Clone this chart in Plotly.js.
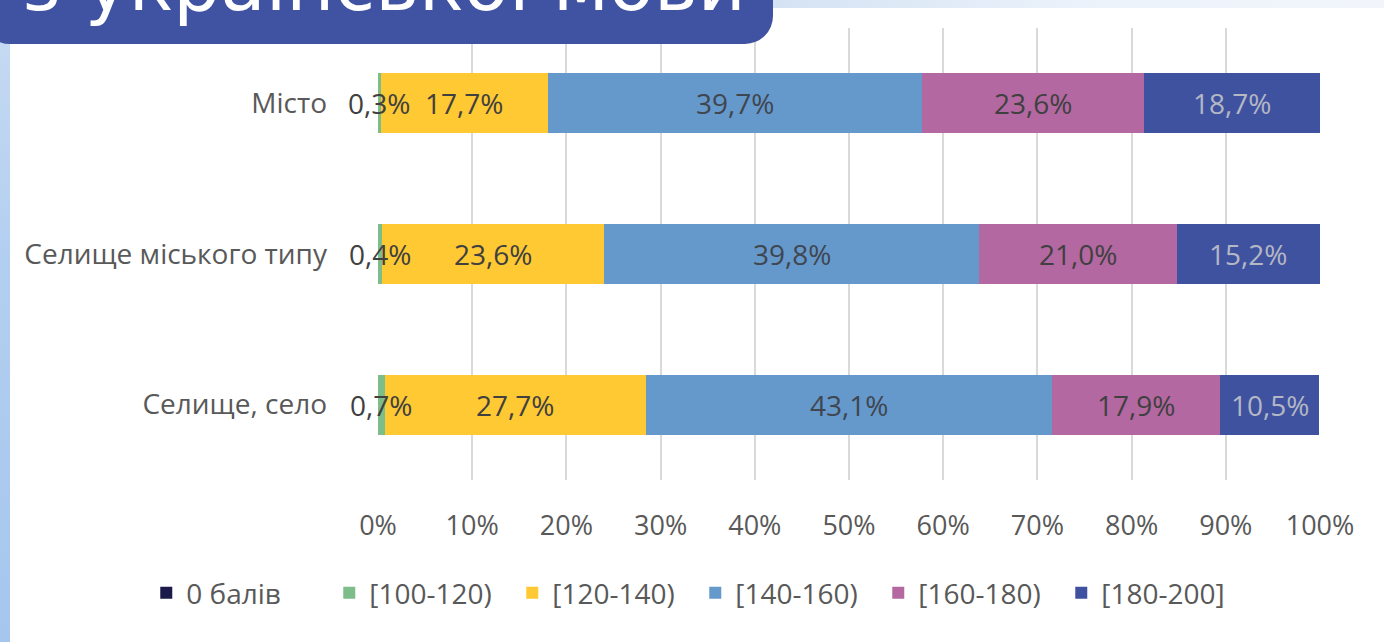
<!DOCTYPE html>
<html>
<head>
<meta charset="utf-8">
<script src="https://cdn.plot.ly/plotly-3.0.1.min.js"></script>
<style>
  html, body { margin:0; padding:0; background:#ffffff; width:1384px; height:642px; overflow:hidden; }
  #wrap { position:relative; width:1384px; height:642px; }
  #chart { position:absolute; left:0; top:0; width:1384px; height:642px; }
  #topstrip { position:absolute; left:0; top:0; width:1384px; height:8px;
    background:linear-gradient(to right, #c6d9f1 0%, #d3e2f3 55%, #edf3fb 80%, #f1f5fb 100%); }
  #leftstrip { position:absolute; left:0; top:0; width:10px; height:642px;
    background:linear-gradient(to bottom, #c8dbf2 0%, #b3cff0 40%, #a6c6ee 100%); }
  #titlebox { position:absolute; left:-18px; top:-10px; width:791px; height:54px;
    background:#3f53a2; border-radius:0 0 28px 28px; overflow:hidden; z-index:5; }
  #titletext { position:absolute; left:40px; top:-43px; font-family:"DejaVu Sans", sans-serif;
    font-size:74px; color:#ffffff; white-space:nowrap; line-height:74px; }
</style>
</head>
<body>
<div id="wrap">
  <div id="topstrip"></div>
  <div id="leftstrip"></div>
  <div id="chart"></div>
  <div id="titlebox"><div id="titletext">з української мови</div></div>
</div>
<script>
// Categories (top to bottom)
var categories = ["Місто", "Селище міського типу", "Селище, село"];
// Series names
var seriesNames = ["0 балів", "[100-120)", "[120-140)", "[140-160)", "[160-180)", "[180-200]"];
// Series values, % (order follows categories)
var s0 = [0, 0, 0];
var s100 = [0.3, 0.4, 0.7];
var s120 = [17.7, 23.6, 27.7];
var s140 = [39.7, 39.8, 43.1];
var s160 = [23.6, 21.0, 17.9];
var s180 = [18.7, 15.2, 10.5];
var seriesValues = [s0, s100, s120, s140, s160, s180];
// X tick values
var xTicks = [0, 10, 20, 30, 40, 50, 60, 70, 80, 90, 100];

var colors = ["#1c1a4a", "#7dbd8a", "#ffc933", "#6699cb", "#b468a2", "#3f52a0"];
var labelColors = ["#404040", "#404040", "#404040", "#3f4650", "#404040", "#b4b7c4"];

function fmt(v) { return v.toFixed(1).replace(".", ",") + "%"; }

var traces = seriesNames.map(function (name, i) {
  return {
    type: "bar",
    orientation: "h",
    name: name,
    y: categories,
    x: seriesValues[i],
    textposition: "none",
    marker: { color: colors[i], line: { width: 0 } },
    hoverinfo: "skip"
  };
});

// data labels centred on each segment, placed through the axes
var annotations = [];
categories.forEach(function (cat, j) {
  var start = 0;
  seriesValues.forEach(function (vals, i) {
    var v = vals[j];
    if (v > 0) {
      annotations.push({
        xref: "x", yref: "y",
        x: start + v / 2, y: cat,
        text: fmt(v),
        showarrow: false,
        xanchor: "center", yanchor: "middle",
        font: { family: "Open Sans, sans-serif", size: 28, color: labelColors[i] }
      });
    }
    start += v;
  });
});

var layout = {
  width: 1384,
  height: 642,
  barmode: "stack",
  bargap: 0.6,
  paper_bgcolor: "rgba(0,0,0,0)",
  plot_bgcolor: "rgba(0,0,0,0)",
  margin: { l: 378, r: 64, t: 28, b: 162, autoexpand: false },
  showlegend: true,
  annotations: annotations,
  font: { family: "Open Sans, sans-serif", color: "#595959" },
  xaxis: {
    range: [0, 100],
    tickvals: xTicks,
    ticktext: xTicks.map(function (t) { return t + "%"; }),
    showgrid: true,
    gridcolor: "#d9d9d9",
    gridwidth: 2,
    zeroline: false,
    showline: false,
    ticks: "",
    ticklabelstandoff: 27,
    tickfont: { size: 27, color: "#595959" },
    fixedrange: true
  },
  yaxis: {
    type: "category",
    autorange: "reversed",
    showgrid: false,
    zeroline: false,
    showline: false,
    ticks: "",
    ticklabelstandoff: 50,
    tickfont: { size: 28, color: "#595959" },
    fixedrange: true
  },
  legend: {
    orientation: "h",
    x: -0.246,
    xanchor: "left",
    y: -0.25,
    yanchor: "middle",
    entrywidth: 138,
    entrywidthmode: "pixels",
    font: { size: 28, color: "#595959" },
    traceorder: "normal",
    itemclick: false,
    itemdoubleclick: false
  }
};

Plotly.newPlot("chart", traces, layout, { displayModeBar: false, staticPlot: true });
</script>
</body>
</html>
